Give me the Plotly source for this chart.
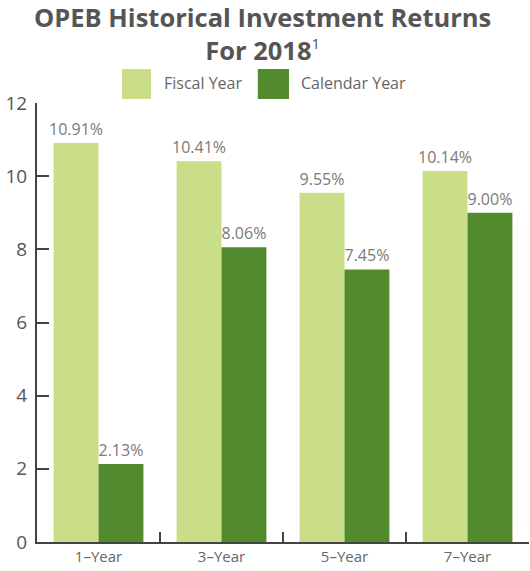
import plotly.graph_objects as go

categories = ["1–Year", "3–Year", "5–Year", "7–Year"]
fiscal_year = [10.91, 10.41, 9.55, 10.14]
calendar_year = [2.13, 8.06, 7.45, 9.00]
series_names = ["Fiscal Year", "Calendar Year"]
y_ticks = [0, 2, 4, 6, 8, 10, 12]

light = "#cade8a"
dark = "#528a2e"
FONT = "Open Sans"

fig = go.Figure()
for name, vals, col in [(series_names[0], fiscal_year, light), (series_names[1], calendar_year, dark)]:
    fig.add_trace(go.Bar(
        x=categories, y=vals, name=name, marker=dict(color=col, line=dict(width=0)),
        texttemplate="%{y:.2f}%", textposition="outside", constraintext="none",
        textfont=dict(family=FONT, size=16, color="#7a7a7a"),
        cliponaxis=False, showlegend=False,
    ))

# title (two centered lines)
fig.add_annotation(text="<b>OPEB Historical Investment Returns<br>For 2018</b><sup><span style='font-size:15px'>1</span></sup>",
                   xref="paper", yref="paper", align="center",
                   x=0.458, y=1.1572, xanchor="center", yanchor="middle", showarrow=False,
                   font=dict(family=FONT, size=25.5, color="#555555"))

# custom legend (big square swatches)
legend_items = [(series_names[0], light, 0.1728, 0.2317, 0.254),
                (series_names[1], dark, 0.4488, 0.5122, 0.5325)]
for name, col, x0, x1, xt in legend_items:
    fig.add_shape(type="rect", xref="paper", yref="paper", x0=x0, x1=x1, y0=1.0091, y1=1.0774,
                  fillcolor=col, line=dict(width=0))
    fig.add_annotation(text=name, xref="paper", yref="paper", x=xt, y=1.0456,
                       xanchor="left", yanchor="middle", showarrow=False,
                       font=dict(family=FONT, size=16, color="#666666"))

fig.update_layout(
    width=530, height=571,
    margin=dict(l=37, r=1, t=103, b=29),
    paper_bgcolor="white", plot_bgcolor="white",
    barmode="group", bargap=0.27, bargroupgap=0,
    xaxis=dict(showline=True, linecolor="#444444", linewidth=2,
               ticks="inside", tickson="boundaries", ticklen=10, tickcolor="#444444", tickwidth=1.5,
               tickfont=dict(family=FONT, size=15, color="#666666"), showgrid=False),
    yaxis=dict(range=[0, 12], tickvals=y_ticks, showline=True, linecolor="#444444", linewidth=2,
               ticks="inside", ticklen=12, tickcolor="#444444", tickwidth=1.5,
               tickfont=dict(family=FONT, size=19, color="#555555"), showgrid=False,
               zeroline=False, ticklabelstandoff=4),
)

fig.write_html("out.html")
